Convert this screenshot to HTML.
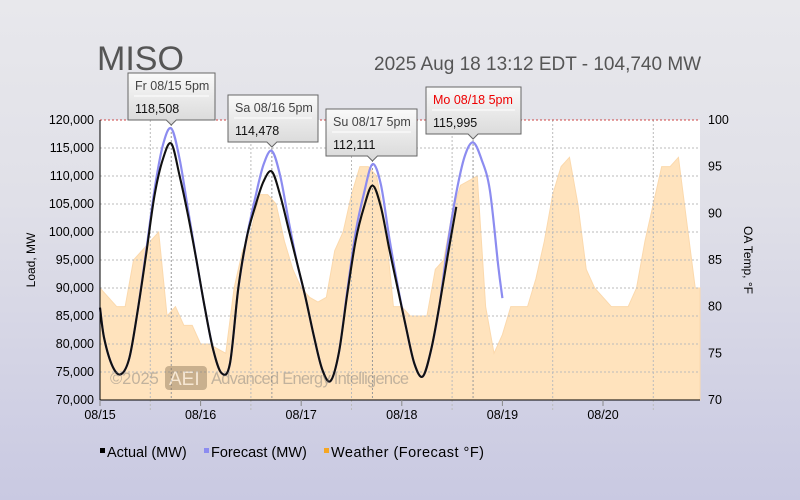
<!DOCTYPE html>
<html><head><meta charset="utf-8"><style>
html,body{margin:0;padding:0}
body{width:800px;height:500px;overflow:hidden;background:linear-gradient(#e8e8ec,#e0e0e8 40%,#c9c9e2);font-family:"Liberation Sans",sans-serif;position:relative}
svg{position:absolute;left:0;top:0}
text{font-family:"Liberation Sans",sans-serif}
</style></head><body>
<svg id="chart" width="800" height="500">
<defs>
<linearGradient id="tip" x1="0" y1="0" x2="0" y2="1"><stop offset="0" stop-color="#fafafa"/><stop offset="1" stop-color="#d8d8d8"/></linearGradient>
</defs>
<text x="97" y="70" font-size="34" fill="#555">MISO</text>
<text x="374" y="70" font-size="19" fill="#555">2025 Aug 18 13:12 EDT - 104,740 MW</text>
<rect x="100" y="120" width="600" height="280" fill="#fff"/>
<g id="weather"></g><g id="grid"></g><g id="lines"></g><g id="axes"></g><g id="tips"></g>
<g opacity="0.45">
<text x="110" y="384" font-size="16.5" fill="#777">©2025</text>
<rect x="165" y="366" width="42" height="24" rx="4" fill="#8a7356"/>
<text x="169" y="385" font-size="19" fill="#eee">AEI</text>
<text x="211" y="384" font-size="16.5" fill="#777" textLength="198">Advanced Energy Intelligence</text>
</g>
<text transform="translate(35,260) rotate(-90)" text-anchor="middle" font-size="12" fill="#000">Load, MW</text>
<text transform="translate(744,260) rotate(90)" text-anchor="middle" font-size="12" fill="#000">OA Temp, °F</text>
<g font-size="14.5">
<g><rect x="100" y="448" width="5" height="5" fill="#000"/><text x="107" y="457">Actual (MW)</text></g>
<g><rect x="204" y="448" width="5" height="5" fill="#8c8cf0"/><text x="211" y="457">Forecast (MW)</text></g>
<g><rect x="324" y="448" width="5" height="5" fill="#f5a623"/><text x="331" y="457" textLength="153">Weather (Forecast °F)</text></g>
</g>
</svg>
<script>
const actualHours=[0,1,3,5,7,9,11,13,15,17,19,21,23,25,27,29,31,33,35,37,39,41,43,45,47,49,51,53,55,57,59,61,63,65,67,69,71,73,75,77,79,81,83,85];
const actualValues=[86500,81000,76000,74600,77500,86000,96000,106500,113000,115800,110000,103000,95000,86500,79000,74800,76500,90000,99000,104500,109000,110800,106500,100500,94500,88400,81500,75500,73400,78500,89000,98500,104500,108300,104500,97000,90000,83000,76500,74200,79000,87000,96000,104500];
const forecastHours=[0,1,3,5,7,9,11,13,15,17,19,21,23,25,27,29,31,33,35,37,39,41,43,45,47,49,51,53,55,57,59,61,63,65,67,69,71,73,75,77,79,81,83,85,87,89,91,93,95,96];
const forecastValues=[86500,81000,76000,74600,77500,86000,96500,107500,115500,118508,113000,104000,95000,86500,79000,74800,76500,90000,99000,106000,112000,114478,110000,102000,94500,88400,81500,75500,73400,78500,89500,100000,107000,112111,108500,99000,90500,83000,76500,74200,79000,87000,98000,107000,113500,115995,113000,107500,94000,88200];
const weatherHours=[0,2,4,6,8,10,12,14,16,18,20,22,24,26,28,30,32,34,36,38,40,42,44,46,48,50,52,54,56,58,60,62,64,66,68,70,72,74,76,78,80,82,84,86,88,90,92,94,96,98,100,102,104,106,108,110,112,114,116,118,120,122,124,126,128,130,132,134,136,138,140,142];
const weatherValues=[82,81,80,80,85,86,87,88,79,80,78,78,76,76,75.5,75,82,86,88,92,92,91,87,84,82,81,80.5,81,86,88,92,95,95,94,89,80,80,79,79,79,84,85,90,93,93.5,94,80,75,77,80,80,80,83,87,92,95,96,91,84,82,81,80,80,80,82,87,91,95,95,96,89,82];
const yTicks=[70000,75000,80000,85000,90000,95000,100000,105000,110000,115000,120000];
const y2Ticks=[70,75,80,85,90,95,100];
const dayLabels=['08/15','08/16','08/17','08/18','08/19','08/20'];
const peakHours=[17,41,65,89];
const peakLabels=['Fr 08/15 5pm','Sa 08/16 5pm','Su 08/17 5pm','Mo 08/18 5pm'];
const peakValues=['118,508','114,478','112,111','115,995'];

const NS='http://www.w3.org/2000/svg';
const X0=100,X1=700,Y0=400,Y1=120,PXH=100.6/24;
const xs=h=>X0+h*PXH;
const ys=v=>Y0-(v-70000)/50000*(Y0-Y1);
const yt=t=>Y0-(t-70)/30*(Y0-Y1);
function mk(tag,attrs,parent){const e=document.createElementNS(NS,tag);for(const k in attrs)e.setAttribute(k,attrs[k]);parent.appendChild(e);return e;}
const G=id=>document.getElementById(id);

let d='M'+X0+','+Y0;
weatherHours.forEach((h,i)=>{d+=' L'+xs(h)+','+yt(weatherValues[i]);});
d+=' L'+X1+','+yt(weatherValues[weatherValues.length-1])+' L'+X1+','+Y0+' Z';
const wa=mk('path',{d:d,fill:'#ffe3bd',stroke:'#fbd9ad','stroke-width':1},G('weather'));



yTicks.forEach(v=>{if(v>70000&&v<120000){const l=mk('line',{x1:X0,x2:X1,y1:ys(v),y2:ys(v),stroke:'#bbb','stroke-dasharray':'2,2'},G('grid'));

}});
dayLabels.forEach((s,i)=>{const x=xs(i*24+12);const l=mk('line',{x1:x,x2:x,y1:Y1,y2:Y0+10,stroke:'#bbb','stroke-dasharray':'2,2'},G('grid'));

});
peakHours.forEach(h=>{const x=xs(h);const l=mk('line',{x1:x,x2:x,y1:Y1,y2:Y0,stroke:'#999','stroke-dasharray':'2,2'},G('grid'));

});
const tl=mk('line',{x1:X0,x2:X1,y1:Y1,y2:Y1,stroke:'#c44','stroke-dasharray':'2,2'},G('grid'));



function smooth(hs,vs){const p=hs.map((h,i)=>[xs(h),ys(vs[i])]);let s='M'+p[0][0]+','+p[0][1];
for(let i=0;i<p.length-1;i++){const a=p[i-1]||p[i],b=p[i],c=p[i+1],e=p[i+2]||c;
s+=' C'+(b[0]+(c[0]-a[0])/6)+','+(b[1]+(c[1]-a[1])/6)+' '+(c[0]-(e[0]-b[0])/6)+','+(c[1]-(e[1]-b[1])/6)+' '+c[0]+','+c[1];}return s;}
const fl=mk('path',{d:smooth(forecastHours,forecastValues),fill:'none',stroke:'#8c8cf0','stroke-width':2.2},G('lines'));


const al=mk('path',{d:smooth(actualHours,actualValues),fill:'none',stroke:'#111','stroke-width':2.1},G('lines'));



mk('line',{x1:X0,x2:X0,y1:Y1,y2:Y0,stroke:'#000'},G('axes'));
mk('line',{x1:X0,x2:X1,y1:Y0,y2:Y0,stroke:'#000'},G('axes'));
yTicks.forEach(v=>{const t=mk('text',{x:X0-6,y:ys(v)+4,'text-anchor':'end','font-size':12.5},G('axes'));t.textContent=v.toLocaleString('en-US');

});
y2Ticks.forEach(v=>{const t=mk('text',{x:X1+8,y:yt(v)+4,'font-size':12.5},G('axes'));t.textContent=v;

});
dayLabels.forEach((s,i)=>{const x=xs(i*24);mk('line',{x1:x,x2:x,y1:Y0,y2:Y0+6,stroke:'#888'},G('axes'));
const t=mk('text',{x:x,y:Y0+19,'text-anchor':'middle','font-size':12.5},G('axes'));t.textContent=s;

});

const tipBox=[[128,73,87],[228,95,90],[326,109,91],[426,87,95]];
peakHours.forEach((h,i)=>{const g=mk('g',{},G('tips'));


const [bx,by,bw]=tipBox[i];const px=xs(h),bh=47;
mk('path',{d:`M${bx},${by} h${bw} v${bh} H${px+5} l-5,5 l-5,-5 H${bx} Z`,fill:'url(#tip)',stroke:'#666'},g);
mk('line',{x1:bx+6,x2:bx+bw-6,y1:by+23,y2:by+23,stroke:'#fff'},g);
const t1=mk('text',{x:bx+7,y:by+17,'font-size':12.5,fill:i==3?'#e00':'#444'},g);t1.textContent=peakLabels[i];
const t2=mk('text',{x:bx+7,y:by+40,'font-size':12.5,fill:'#111'},g);t2.textContent=peakValues[i];});
</script>
</body></html>
